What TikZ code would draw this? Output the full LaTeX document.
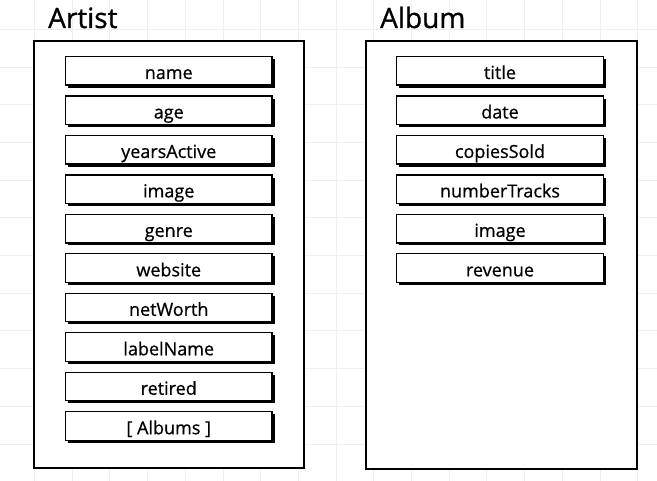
\documentclass[tikz,border=0pt]{standalone}
\usepackage{fontspec}
\setmainfont{Open Sans}
\newfontfamily\fieldfont{Open Sans}[FakeBold=0.7]
\newfontfamily\titlefont{Open Sans}[FakeBold=1.0]
\usetikzlibrary{shadows}
\definecolor{gridc}{HTML}{EFEFEF}
\tikzset{
  frame/.style={draw=black, line width=1.9pt, fill=white, inner sep=0pt},
  field/.style={draw=black, line width=1.3pt, fill=white, inner sep=0pt,
    minimum width=206.5pt, minimum height=28.5pt,
    font=\fieldfont\fontsize{18}{20}\selectfont, text height=18pt, text depth=1.5pt,
    drop shadow={shadow xshift=2.6pt, shadow yshift=-2.6pt, fill=black, opacity=1}},
  title/.style={anchor=base west, inner sep=0pt, font=\titlefont\fontsize{28}{30}\selectfont}
}
\begin{document}
\begin{tikzpicture}[x=1pt, y=-1pt]
  \useasboundingbox (0,0) rectangle (657,481);
  \fill[white] (0,0) rectangle (657,481);
  \foreach \i in {0,...,17} {
    \draw[gridc, line width=0.8pt] ({34.4+37.7*(\i-1)},0) -- ({34.4+37.7*(\i-1)},481);
  }
  \foreach \j in {0,...,12} {
    \draw[gridc, line width=0.8pt] (0,{29.3+37.7*\j}) -- (657,{29.3+37.7*\j});
  }
  \node[title] (artisttitle) at (48,28) {Artist};
  \node[title] (albumtitle) at (380,28) {Album};
  \node[frame, minimum width=270pt, minimum height=427pt] (artistframe) at (169,254.5) {};
  \node[frame, minimum width=271pt, minimum height=428pt] (albumframe) at (501.5,255) {};
  \foreach \t [count=\k from 0] in {name,age,yearsActive,image,genre,website,netWorth,labelName,retired,{[ Albums ]}} {
    \node[field] (artistf\k) at (168.75,{70.75+39.47*\k}) {\t};
  }
  \foreach \t [count=\k from 0] in {title,date,copiesSold,numberTracks,image,revenue} {
    \node[field] (albumf\k) at (500,{70.75+39.47*\k}) {\t};
  }
\end{tikzpicture}
\end{document}
